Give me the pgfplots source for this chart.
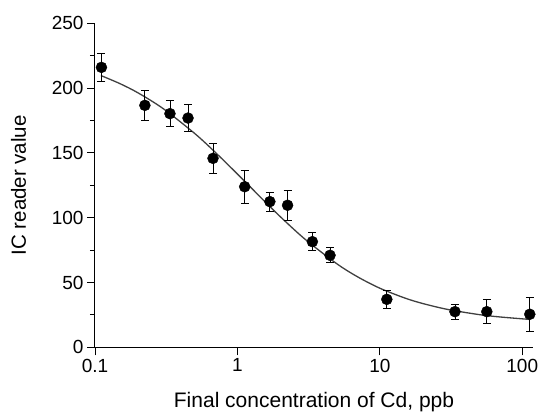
\documentclass[border=0pt]{standalone}
\usepackage{pgfplots}
\pgfplotsset{compat=1.18}
\usepackage{pgfplotstable}
\usepackage{fontspec}
\setmainfont{Liberation Sans}
\definecolor{curvegray}{HTML}{404040}

\pgfplotstableread{
x y e
0.111 216 10.8
0.224 186.7 11.5
0.336 180.3 10.2
0.45 176.9 10.7
0.674 145.8 11.7
1.125 123.9 12.6
1.69 112.4 7.4
2.25 109.6 11.4
3.36 81.5 7.1
4.47 71 5.8
11.2 37 6.8
33.7 27.5 5.9
56.4 27.5 9.3
113 25.5 13
}\datatable

\pgfplotstableread{
x y
0.11 209.7
0.15 203.4
0.2 196.4
0.3 184.3
0.5 165.1
0.7 150.4
1 133.7
1.5 114.3
2 100.8
3 83.2
5 64.4
7 54.3
10 45.6
15 38.0
20 33.8
30 29.2
50 25.2
70 23.4
113 21.5
}\curvetable

\begin{document}
\begin{tikzpicture}[x=1pt,y=1pt]
\path[use as bounding box] (-95,-68.7) rectangle (446,347.3);
\begin{axis}[
  at={(0,0)}, anchor=south west,
  scale only axis, width=438pt, height=324pt,
  xmode=log, log basis x=10,
  xmin=0.1, xmax=119, ymin=0, ymax=250,
  axis lines=left,
  axis line style={-, line width=1pt, black},
  tick align=outside,
  major tick length=8pt, minor tick length=5pt,
  every tick/.style={black, line width=0.9pt},
  xtick={0.1,1,10,100}, xticklabels={0.1,1,10,100},
  ytick={0,50,100,150,200,250},
  minor ytick={25,75,125,175,225},
  tick label style={font=\fontsize{19}{21}\selectfont},
  /pgf/number format/assume math mode=true,
  xlabel={Final concentration of Cd, ppb},
  ylabel={IC reader value},
  xlabel style={at={(axis description cs:0.5,0)}, anchor=north, yshift=-44.7pt, inner sep=0pt, font=\fontsize{21}{23}\selectfont},
  ylabel style={at={(axis description cs:-0.1747,0.5)}, anchor=center, inner sep=0pt, font=\fontsize{20.5}{23}\selectfont},
  clip=false,
]
\addplot[curvegray, line width=1.3pt, smooth, no marks] table[x=x,y=y]{\curvetable};
\addplot[only marks, mark=*, mark size=5.5pt, black,
  error bars/.cd, y dir=both, y explicit,
  error bar style={line width=0.9pt, black},
  error mark options={rotate=90, mark size=4pt, line width=0.9pt, black}]
  table[x=x,y=y,y error=e]{\datatable};
\end{axis}
\end{tikzpicture}
\end{document}
